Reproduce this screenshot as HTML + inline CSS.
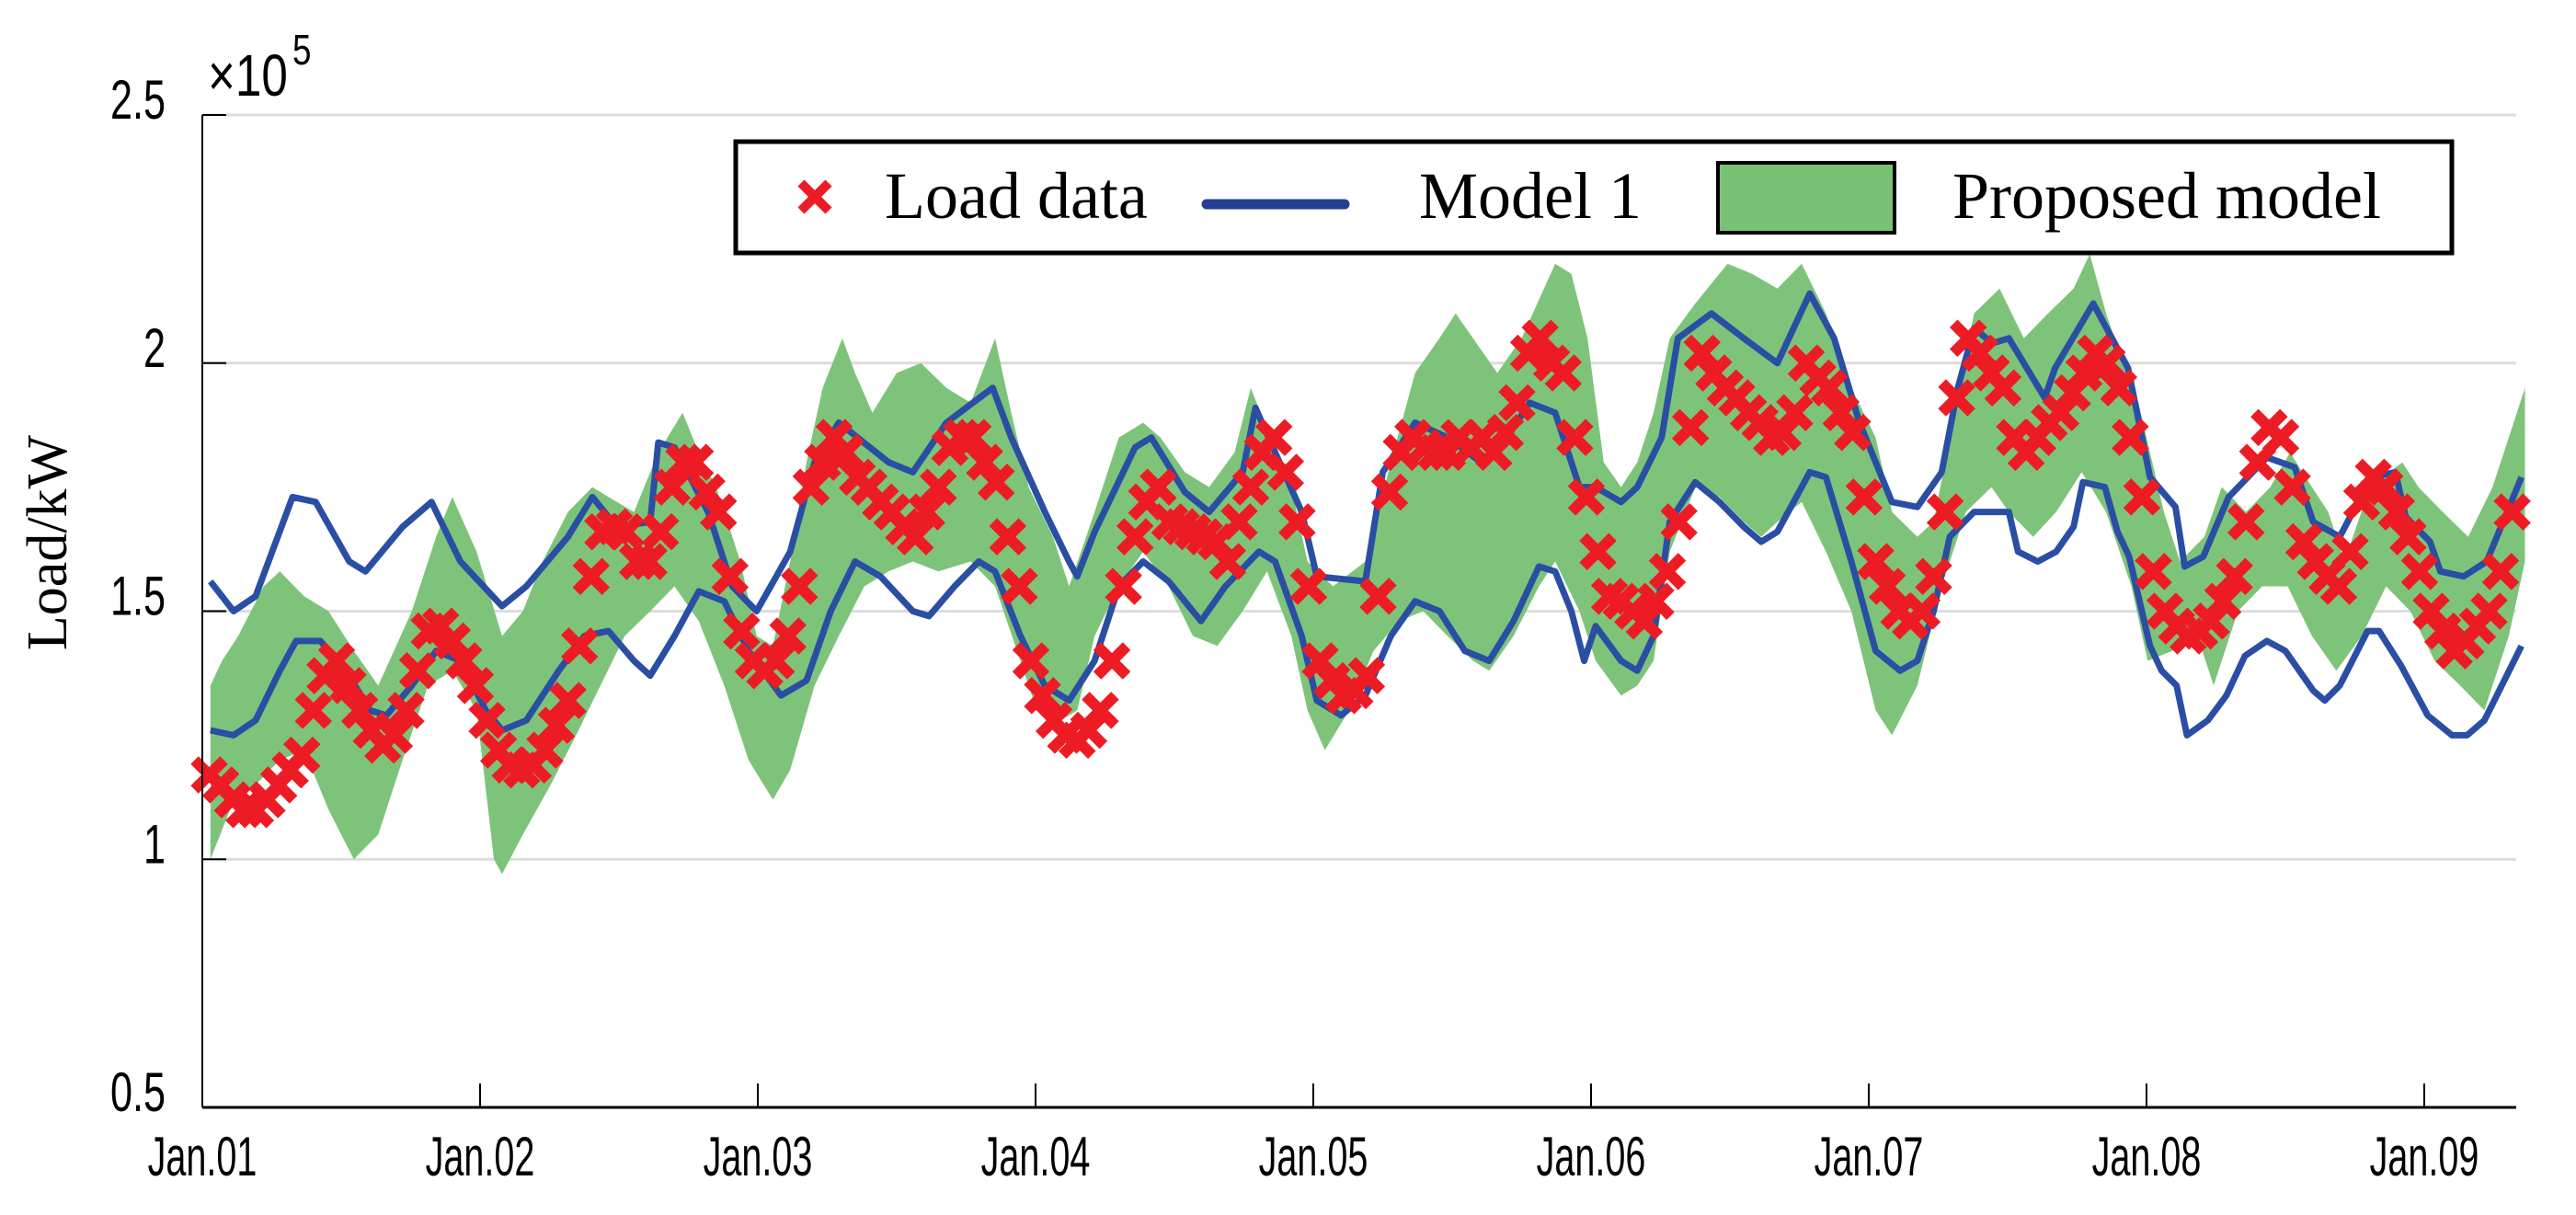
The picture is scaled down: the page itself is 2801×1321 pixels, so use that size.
<!DOCTYPE html>
<html><head><meta charset="utf-8">
<style>
html,body{margin:0;padding:0;background:#fff;}
svg{display:block;}
</style></head>
<body>
<svg id="chart" width="2801" height="1321" viewBox="0 0 2801 1321" xmlns="http://www.w3.org/2000/svg">
  <rect x="0" y="0" width="2801" height="1321" fill="#fff"/>
  <g id="grid"></g>
  <g id="band"></g>
  <g id="lines"></g>
  <g id="marks"></g>
  <g id="axes"></g>
  <text x="58" y="590" transform="rotate(-90 58 590)" text-anchor="middle" dominant-baseline="middle" font-family="Liberation Serif, serif" font-size="62">Load/kW</text>
  <g font-family="Liberation Sans, sans-serif" fill="#000">
    <text transform="translate(226 104) scale(0.8 1)" font-size="64">×10</text>
    <text transform="translate(318 70) scale(0.8 1)" font-size="46">5</text>
  </g>
  <g>
    <rect x="800" y="154" width="1866" height="121" fill="#fff" stroke="#000" stroke-width="5"/>
    <g>
      <path d="M871 199 L901 229 M901 199 L871 229" stroke="#ed1c24" stroke-width="10"/>
      <text x="962" y="237" font-family="Liberation Serif, serif" font-size="72">Load data</text>
    </g>
    <g>
      <line x1="1312" y1="222" x2="1462" y2="222" stroke="#233f94" stroke-width="11" stroke-linecap="round"/>
      <text x="1543" y="237" font-family="Liberation Serif, serif" font-size="72">Model 1</text>
    </g>
    <g>
      <rect x="1868" y="177" width="192" height="76" fill="#79c274" stroke="#000" stroke-width="4"/>
      <text x="2123" y="237" font-family="Liberation Serif, serif" font-size="72">Proposed model</text>
    </g>
  </g>
</svg>
<script>
// ---- data (hours from Jan.01 00:00, values in 1e5 kW) ----
const dayLabels = ["Jan.01","Jan.02","Jan.03","Jan.04","Jan.05","Jan.06","Jan.07","Jan.08","Jan.09"];
const yTicks = [0.5,1,1.5,2,2.5];
const yTickLabels = ["0.5","1","1.5","2","2.5"];

const loadStartHour = 0.6;
const loadValues = [1.17,1.15,1.12,1.10,1.10,1.12,1.15,1.18,1.21,1.30,1.37,1.40,1.35,1.30,1.26,1.23,1.25,1.30,1.38,1.46,1.47,1.44,1.40,1.35,1.28,1.22,1.19,1.18,1.19,1.22,1.27,1.32,1.43,1.57,1.66,1.67,1.66,1.60,1.60,1.66,1.75,1.80,1.80,1.74,1.70,1.57,1.46,1.40,1.38,1.40,1.45,1.55,1.75,1.80,1.85,1.82,1.77,1.75,1.72,1.70,1.67,1.65,1.70,1.75,1.83,1.85,1.85,1.80,1.76,1.65,1.55,1.40,1.33,1.28,1.25,1.24,1.26,1.30,1.40,1.55,1.65,1.72,1.75,1.68,1.67,1.66,1.65,1.64,1.60,1.68,1.75,1.82,1.85,1.78,1.68,1.55,1.40,1.36,1.33,1.34,1.37,1.53,1.74,1.82,1.85,1.83,1.82,1.82,1.85,1.83,1.85,1.82,1.86,1.92,2.02,2.05,2.00,1.98,1.85,1.73,1.62,1.53,1.52,1.50,1.48,1.52,1.58,1.68,1.87,2.02,1.98,1.95,1.93,1.90,1.88,1.85,1.86,1.90,2.00,1.97,1.95,1.90,1.86,1.73,1.60,1.55,1.50,1.48,1.50,1.57,1.70,1.93,2.05,2.02,1.98,1.95,1.85,1.82,1.85,1.88,1.90,1.94,1.98,2.02,2.00,1.95,1.85,1.73,1.58,1.50,1.47,1.45,1.46,1.48,1.52,1.57,1.68,1.80,1.87,1.85,1.75,1.64,1.60,1.57,1.55,1.62,1.72,1.77,1.75,1.70,1.65,1.58,1.50,1.46,1.42,1.44,1.47,1.50,1.58,1.70];

const m1UpperHours = [0.7,2.7,4.6,7.8,9.8,12.7,14.1,17.3,19.8,22.3,25.9,28.0,31.6,33.7,35.8,38.7,39.4,40.8,43.7,45.8,47.9,49.6,50.8,52.9,55.0,59.3,61.4,64.3,68.3,69.9,72.8,74.9,75.6,77.1,80.6,82.0,84.9,87.0,89.9,91.0,92.7,95.0,96.3,100.5,102.0,104.8,107.6,110.5,111.9,114.7,116.9,119.0,120.4,122.6,124.0,126.1,127.5,130.4,133.2,136.1,138.9,141.0,143.2,146.0,148.2,150.3,151.7,153.1,154.7,156.1,159.2,160.1,163.4,166.4,168.3,170.5,171.3,172.9,175.1,178.4,180.8,182.4,184.7,187.4,189.5,190.4,192.5,193.4,195.4,197.4,200.4];
const m1UpperValues = [1.56,1.50,1.53,1.73,1.72,1.60,1.58,1.67,1.72,1.60,1.51,1.55,1.65,1.73,1.67,1.68,1.84,1.83,1.70,1.55,1.50,1.57,1.62,1.80,1.88,1.80,1.78,1.88,1.95,1.85,1.70,1.60,1.57,1.66,1.83,1.85,1.74,1.70,1.78,1.91,1.82,1.70,1.57,1.56,1.78,1.88,1.85,1.80,1.82,1.92,1.90,1.75,1.75,1.72,1.75,1.85,2.05,2.10,2.05,2.00,2.14,2.05,1.88,1.72,1.71,1.78,1.95,2.07,2.04,2.05,1.93,1.99,2.12,1.99,1.77,1.71,1.59,1.61,1.73,1.81,1.79,1.68,1.65,1.77,1.78,1.69,1.64,1.58,1.57,1.60,1.77];

const m1LowerHours = [0.7,2.7,4.6,6.7,8.1,10.2,12.4,14.5,15.9,18.1,20.2,22.3,24.5,25.9,28.0,30.8,33.0,35.1,37.3,38.7,40.8,42.9,45.1,47.2,50.0,52.2,54.3,56.4,58.6,61.4,62.8,65.0,67.1,68.5,70.7,72.8,74.9,77.1,79.2,81.3,83.5,86.3,88.4,91.3,92.7,95.0,96.3,98.4,100.5,102.7,104.8,106.9,109.1,111.2,113.3,115.5,116.9,118.3,119.4,120.4,122.6,124.0,125.4,126.8,129.0,131.1,133.2,134.7,136.1,137.5,138.9,140.3,142.5,144.6,146.7,148.2,149.6,151.0,153.1,156.1,156.9,158.6,160.2,161.7,162.5,164.4,165.5,166.5,168.3,169.3,170.6,171.5,173.3,174.9,176.5,178.4,180.0,182.4,183.4,184.7,187.1,188.1,190.0,192.3,194.4,195.7,197.2,200.4];
const m1LowerValues = [1.26,1.25,1.28,1.38,1.44,1.44,1.38,1.30,1.29,1.35,1.42,1.40,1.30,1.26,1.28,1.38,1.45,1.46,1.40,1.37,1.45,1.54,1.52,1.42,1.33,1.36,1.50,1.60,1.57,1.50,1.49,1.55,1.60,1.58,1.45,1.35,1.32,1.40,1.55,1.60,1.56,1.48,1.55,1.62,1.60,1.45,1.32,1.29,1.33,1.45,1.52,1.50,1.42,1.40,1.48,1.59,1.58,1.50,1.40,1.47,1.40,1.38,1.45,1.68,1.76,1.72,1.67,1.64,1.66,1.72,1.78,1.77,1.60,1.42,1.38,1.40,1.50,1.65,1.70,1.70,1.62,1.60,1.62,1.67,1.76,1.75,1.66,1.61,1.43,1.38,1.35,1.25,1.28,1.33,1.41,1.44,1.42,1.34,1.32,1.35,1.46,1.46,1.39,1.29,1.25,1.25,1.28,1.43];

const bandUpperHours = [0.7,1.7,3.1,5.3,6.7,8.8,10.9,13.1,15.2,18.1,20.2,21.6,23.7,25.9,27.7,29.4,31.6,33.7,35.1,37.3,39.4,41.5,42.9,44.4,46.5,47.9,49.3,50.8,52.2,53.6,55.3,56.4,57.9,60.0,62.1,64.3,66.4,68.5,69.9,71.4,73.5,74.9,77.1,79.2,81.3,82.8,84.9,87.0,89.2,90.6,92.3,94.1,95.5,97.7,100.5,102.7,104.8,106.9,108.3,109.8,111.9,114.0,116.9,118.3,119.7,121.1,122.6,124.0,125.4,126.8,129.0,131.8,133.9,136.1,138.2,140.3,142.5,144.6,146.0,148.2,149.6,151.0,153.1,155.3,157.4,159.5,161.7,163.1,164.5,166.0,167.3,169.5,170.9,173.0,174.5,176.6,178.7,180.4,182.3,183.7,185.1,187.3,190.1,191.5,193.6,195.8,197.9,199.3,200.7];
const bandUpperValues = [1.35,1.40,1.45,1.55,1.58,1.53,1.50,1.42,1.35,1.50,1.65,1.73,1.62,1.45,1.50,1.60,1.70,1.75,1.73,1.70,1.82,1.90,1.82,1.75,1.60,1.45,1.43,1.60,1.80,1.95,2.05,1.98,1.90,1.98,2.00,1.95,1.92,2.05,1.90,1.75,1.65,1.55,1.70,1.85,1.88,1.85,1.78,1.75,1.82,1.95,1.85,1.75,1.60,1.55,1.60,1.80,1.98,2.05,2.10,2.05,1.98,2.05,2.20,2.18,2.05,1.80,1.75,1.80,1.90,2.05,2.12,2.20,2.18,2.15,2.20,2.10,1.95,1.85,1.70,1.65,1.68,1.85,2.10,2.15,2.05,2.10,2.15,2.22,2.10,2.00,1.92,1.70,1.60,1.65,1.75,1.70,1.75,1.82,1.75,1.70,1.60,1.75,1.80,1.75,1.70,1.65,1.75,1.85,1.95];

const bandLowerHours = [0.7,2.4,4.6,6.7,8.8,10.9,13.1,15.2,17.3,19.5,21.6,23.7,25.2,25.9,27.7,30.1,32.3,34.4,36.5,38.7,40.8,42.9,45.1,47.2,49.3,50.8,52.9,55.0,57.2,59.3,61.4,63.6,66.4,68.5,70.7,72.1,73.5,75.6,77.1,79.2,81.3,83.5,85.6,87.7,89.9,92.0,94.1,95.5,97.0,99.1,101.2,103.4,105.5,107.6,109.8,111.2,113.3,115.5,116.9,119.0,120.4,122.6,124.0,125.4,126.8,129.0,131.1,133.2,134.7,136.1,138.2,140.3,142.5,144.6,146.0,148.2,150.3,152.4,154.6,156.1,158.2,160.2,162.4,164.5,166.7,168.1,170.2,172.4,173.8,175.9,178.0,180.2,182.3,184.4,186.6,188.7,190.8,192.9,195.1,197.2,199.3,200.7];
const bandLowerValues = [1.00,1.10,1.15,1.20,1.22,1.10,1.00,1.05,1.20,1.35,1.38,1.30,1.00,0.97,1.05,1.15,1.25,1.35,1.45,1.50,1.55,1.48,1.35,1.20,1.12,1.18,1.35,1.45,1.55,1.58,1.60,1.58,1.60,1.55,1.40,1.30,1.27,1.30,1.45,1.55,1.62,1.55,1.45,1.43,1.50,1.58,1.45,1.30,1.22,1.30,1.42,1.48,1.50,1.45,1.40,1.38,1.45,1.55,1.60,1.50,1.40,1.33,1.35,1.40,1.62,1.75,1.73,1.68,1.65,1.68,1.72,1.62,1.50,1.30,1.25,1.35,1.55,1.70,1.75,1.70,1.65,1.70,1.78,1.70,1.55,1.40,1.42,1.45,1.35,1.50,1.55,1.55,1.45,1.38,1.45,1.55,1.50,1.40,1.35,1.30,1.45,1.60];

// ---- scales ----
const X0 = 220, PX_PER_DAY = 302, Y0 = 1204, PX_PER_UNIT = 539.5;
const xOf = h => X0 + h / 24 * PX_PER_DAY;
const yOf = v => Y0 - (v - 0.5) * PX_PER_UNIT;
const PLOT_RIGHT = 2736;
const NS = "http://www.w3.org/2000/svg";
function mk(tag, attrs, parent) {
  const el = document.createElementNS(NS, tag);
  for (const k in attrs) el.setAttribute(k, attrs[k]);
  parent.appendChild(el);
  return el;
}
const grid = document.getElementById('grid');
const band = document.getElementById('band');
const lines = document.getElementById('lines');
const marks = document.getElementById('marks');
const axes = document.getElementById('axes');

// gridlines + y ticks
yTicks.forEach((v, i) => {
  if (v > 0.5) {
    const g = mk('line', {x1: X0, x2: PLOT_RIGHT, y1: yOf(v), y2: yOf(v), stroke: '#dcdcdc', 'stroke-width': 3}, grid);
    
    
  }
  const t = mk('line', {x1: X0, x2: X0 + 26, y1: yOf(v), y2: yOf(v), stroke: '#000', 'stroke-width': 2}, axes);
  
  
  const lb = mk('text', {transform: `translate(180 ${yOf(v) + 4}) scale(0.72 1)`, 'text-anchor': 'end', 'font-family': 'Liberation Sans, sans-serif', 'font-size': 60}, axes);
  lb.textContent = yTickLabels[i];
  
  
});

// band
let pts = [];
bandUpperHours.forEach((h, i) => pts.push(xOf(h).toFixed(1) + ',' + yOf(bandUpperValues[i]).toFixed(1)));
for (let i = bandLowerHours.length - 1; i >= 0; i--) pts.push(xOf(bandLowerHours[i]).toFixed(1) + ',' + yOf(bandLowerValues[i]).toFixed(1));
const poly = mk('polygon', {points: pts.join(' '), fill: '#7dc47a'}, band);



// model 1 lines
function drawLine(hs, vs, name) {
  const p = hs.map((h, i) => xOf(h).toFixed(1) + ',' + yOf(vs[i]).toFixed(1)).join(' ');
  const pl = mk('polyline', {points: p, fill: 'none', stroke: '#2a4ea3', 'stroke-width': 7, 'stroke-linejoin': 'round'}, lines);
  
  
}
drawLine(m1UpperHours, m1UpperValues, 'model1-upper-line');
drawLine(m1LowerHours, m1LowerValues, 'model1-lower-line');

// load markers
loadValues.forEach((v, i) => {
  const cx = xOf(loadStartHour + i), cy = yOf(v), s = 16;
  const m = mk('path', {d: `M${cx - s} ${cy - s} L${cx + s} ${cy + s} M${cx + s} ${cy - s} L${cx - s} ${cy + s}`, stroke: '#ed1c24', 'stroke-width': 12}, marks);
  
  
});

// axes
const ya = mk('line', {x1: X0, x2: X0, y1: yOf(2.5), y2: Y0, stroke: '#000', 'stroke-width': 2}, axes);


const xa = mk('line', {x1: X0, x2: PLOT_RIGHT, y1: Y0, y2: Y0, stroke: '#000', 'stroke-width': 3}, axes);


dayLabels.forEach((d, i) => {
  const x = xOf(i * 24);
  if (i > 0) {
    const t = mk('line', {x1: x, x2: x, y1: Y0, y2: Y0 - 26, stroke: '#000', 'stroke-width': 2}, axes);
    
    
  }
  const lb = mk('text', {transform: `translate(${x} 1278) scale(0.66 1)`, 'text-anchor': 'middle', 'font-family': 'Liberation Sans, sans-serif', 'font-size': 60}, axes);
  lb.textContent = d;
  
  
});
</script>
</body></html>
